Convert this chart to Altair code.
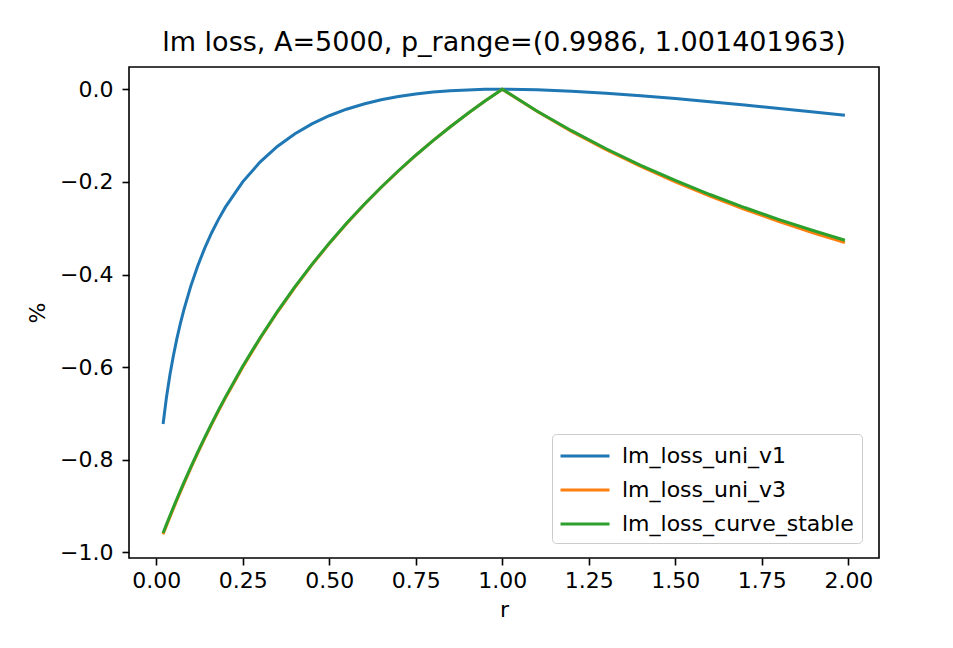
import altair as alt
import pandas as pd

# price ratio r
r_vals = [0.02, 0.03, 0.04, 0.05, 0.06, 0.07, 0.08, 0.10, 0.12, 0.14, 0.16, 0.18,
          0.20, 0.25, 0.30, 0.35, 0.40, 0.45, 0.50, 0.55, 0.60, 0.65, 0.70, 0.75,
          0.80, 0.85, 0.90, 0.95, 1.00, 1.10, 1.20, 1.30, 1.40, 1.50, 1.60, 1.70,
          1.80, 1.90, 1.99]

lm_loss_uni_v1 = [-0.7227, -0.6637, -0.6154, -0.5741, -0.5378, -0.5055, -0.4762, -0.4250,
                  -0.3814, -0.3436, -0.3103, -0.2809, -0.2546, -0.2000, -0.1573, -0.1235,
                  -0.0965, -0.0747, -0.0572, -0.0431, -0.0318, -0.0228, -0.0157, -0.0103,
                  -0.0062, -0.0033, -0.0014, -0.0003, 0.0, -0.0011, -0.0041, -0.0085,
                  -0.0140, -0.0202, -0.0270, -0.0342, -0.0417, -0.0494, -0.0564]

lm_loss_uni_v3 = [-0.9608, -0.9417, -0.9231, -0.9048, -0.8868, -0.8692, -0.8519, -0.8182,
                  -0.7857, -0.7544, -0.7241, -0.6949, -0.6667, -0.6000, -0.5385, -0.4815,
                  -0.4286, -0.3793, -0.3333, -0.2903, -0.2500, -0.2121, -0.1765, -0.1429,
                  -0.1111, -0.0811, -0.0526, -0.0256, 0.0, -0.0476, -0.0909, -0.1304,
                  -0.1667, -0.2000, -0.2308, -0.2593, -0.2857, -0.3103, -0.3311]

lm_loss_curve_stable = [-0.9579, -0.9389, -0.9203, -0.9021, -0.8841, -0.8666, -0.8493, -0.8157,
                        -0.7833, -0.7521, -0.7219, -0.6928, -0.6647, -0.5982, -0.5369, -0.4801,
                        -0.4273, -0.3782, -0.3323, -0.2894, -0.2493, -0.2115, -0.1760, -0.1425,
                        -0.1108, -0.0809, -0.0524, -0.0255, 0.0, -0.0469, -0.0895, -0.1285,
                        -0.1642, -0.1970, -0.2273, -0.2554, -0.2814, -0.3056, -0.3261]

series_names = ["lm_loss_uni_v1", "lm_loss_uni_v3", "lm_loss_curve_stable"]
series_colors = ["#1f77b4", "#ff7f0e", "#2ca02c"]
x_ticks = [0.0, 0.25, 0.5, 0.75, 1.0, 1.25, 1.5, 1.75, 2.0]
y_ticks = [-1.0, -0.8, -0.6, -0.4, -0.2, 0.0]

rows = []
for name, vals in zip(series_names, [lm_loss_uni_v1, lm_loss_uni_v3, lm_loss_curve_stable]):
    for i, (r, v) in enumerate(zip(r_vals, vals)):
        rows.append({"r": r, "value": v, "series": name, "order": i})
df = pd.DataFrame(rows)

FONT = "DejaVu Sans"

chart = alt.Chart(df).mark_line(strokeWidth=3, interpolate="linear").encode(
    x=alt.X("r:Q", title="r",
            scale=alt.Scale(domain=[-0.0785, 2.0885], nice=False, zero=False),
            axis=alt.Axis(values=x_ticks, format=".2f", grid=False, domain=False,
                          tickSize=7, tickWidth=1.6, tickColor="black",
                          labelFont=FONT, labelFontSize=22, labelColor="black",
                          labelPadding=5, labelFlush=False,
                          titleFont=FONT, titleFontSize=22, titleFontWeight="normal",
                          titleColor="black", titlePadding=8)),
    y=alt.Y("value:Q", title="%",
            scale=alt.Scale(domain=[-1.012, 0.048], nice=False, zero=False),
            axis=alt.Axis(values=y_ticks, format=".1f", grid=False, domain=False,
                          tickSize=7, tickWidth=1.6, tickColor="black",
                          labelFont=FONT, labelFontSize=22, labelColor="black",
                          labelPadding=9, labelFlush=False,
                          titleFont=FONT, titleFontSize=22, titleFontWeight="normal",
                          titleColor="black", titlePadding=10)),
    color=alt.Color("series:N", sort=series_names,
                    scale=alt.Scale(domain=series_names, range=series_colors),
                    legend=alt.Legend(title=None, orient="none", legendX=423, legendY=367,
                                      symbolType="M-1.1,0H2.9", symbolSize=600,
                                      symbolStrokeWidth=3,
                                      labelFont=FONT, labelFontSize=22, labelColor="black",
                                      labelOffset=34, labelLimit=0, rowPadding=9,
                                      padding=8, strokeColor="#cccccc",
                                      fillColor="rgba(255,255,255,0.8)",
                                      cornerRadius=4)),
    order=alt.Order("order:Q"),
).properties(
    width=750, height=491,
    title=alt.TitleParams("lm loss, A=5000, p_range=(0.9986, 1.001401963)",
                          font=FONT, fontSize=27, fontWeight="normal",
                          color="black", anchor="middle", offset=10),
    autosize=alt.AutoSizeParams(type="none"),
    padding={"left": 129, "top": 67, "right": 74, "bottom": 90},
).configure_view(stroke="black", strokeWidth=1.6)

chart.save("out.html", embed_options={"renderer": "svg", "actions": False})
